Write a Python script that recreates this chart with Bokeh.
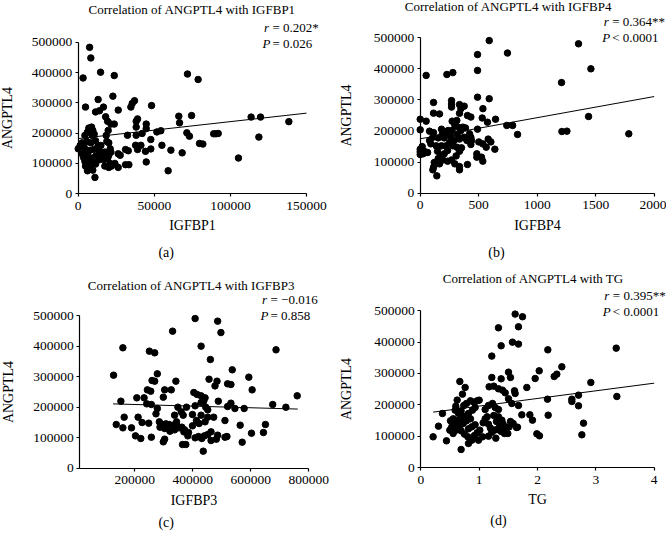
from bokeh.plotting import figure
from bokeh.layouts import column, row
from bokeh.models import Label, Range1d, FixedTicker, BasicTickFormatter
from bokeh.embed import file_html
from bokeh.resources import INLINE

# ---------------- data ----------------
# (a) IGFBP1 vs ANGPTL4
a_x = [7500, 8300, 3200, 14700, 23700, 4800, 13100, 16600, 22800, 26300, 11400, 14000, 18000, 19300,
       21500, 23700, 34600, 35500, 37000, 48200, 39000, 38100, 44700, 44700, 38100, 38100, 42000, 47700,
       51700, 54300, 66100, 66600, 74500, 71800, 78800, 71400, 73100, 79700, 81900, 32400, 37700, 31100,
       32900, 39000, 41200, 44200, 44700, 47700, 55000, 60900, 68300, 59100, 26300, 27600, 31100, 33300,
       26300, 89000, 90500, 92000, 105300, 113600, 119800, 118700, 138400,
       7000, 8800, 9600, 6100, 4400, 9200, 10500, 2600, 5700, 8300, 11400, 13100, 0, 2600, 4800, 7400,
       10100, 12700, 14000, 3500, 6100, 8800, 11400, 13600, 4400, 7000, 9600, 12300, 4800, 7900, 11400,
       14500, 6100, 9600, 11000, 18800, 20100, 21000, 21500, 20100, 17100, 19300, 21000, 21900, 24100,
       17500, 20100, 15800, 17500, 18400, 19700, 14900, 3900, 1300]
a_y = [483000, 448000, 382000, 401000, 390000, 286000, 311000, 286000, 322000, 276000, 270000, 274000,
       254000, 239000, 230000, 230000, 286000, 298000, 307000, 291000, 247000, 239000, 230000, 215000,
       220000, 193000, 199000, 179000, 204000, 208000, 256000, 234000, 258000, 395000, 377000, 201000,
       190000, 166000, 164000, 193000, 160000, 146000, 142000, 146000, 160000, 140000, 105000, 148000,
       160000, 144000, 135000, 76000, 132000, 127000, 96000, 96000, 87000, 198000, 198000, 199000,
       118000, 253000, 253000, 187000, 238000,
       217000, 220000, 209000, 203500, 192500, 192500, 197000, 168000, 172700, 168000, 175000, 159500,
       148500, 132000, 137500, 143000, 146000, 150700, 139700, 120000, 126500, 117700, 124000, 126500,
       106700, 109000, 104500, 109000, 91300, 95700, 98000, 113300, 75900, 78000, 54000, 172700, 168000,
       148500, 137500, 126500, 113300, 115500, 100100, 91300, 100100, 91300, 86900, 131000, 137500,
       192500, 209000, 159500, 154000, 159500]
a_line_x = [0, 150000]
a_line_y = [182000, 266000]

# (b) IGFBP4 vs ANGPTL4
b_x = [590, 490, 746, 490, 51, 228, 279, 1208, 490, 590, 114, 268, 268, 268, 336, 348, 376, 536, 114,
       165, 336, 404, 433, 530, 575, 644, 0, 51, 740, 790, 832, 1211, 1254, 1353, 1459, 1439, 1783,
       0, 0, 0, 0, 23, 40, 63, 80, 114, 108, 91, 137, 154, 182, 188, 205, 222, 239, 262, 273, 296, 313,
       325, 348, 365, 387, 319, 336, 290, 251, 222, 182, 148, 177, 205, 234, 279, 313, 353, 336, 307,
       268, 234, 194, 154, 120, 114, 108, 142, 165, 296, 336, 336, 404, 422, 433, 439, 433, 490, 501,
       484, 484, 524, 535, 535, 581, 604, 638, 564, 376, 399, 273, 80, 17, 34]
b_y = [491000, 446000, 451000, 395000, 379000, 382000, 388000, 356000, 309000, 304000, 292000, 298000,
       287000, 277000, 285000, 272000, 280000, 272000, 257500, 255000, 257000, 250000, 245000, 242000,
       228500, 238000, 238000, 231800, 218000, 218000, 189000, 198500, 199600, 480700, 400200, 246800,
       191000,
       204000, 141600, 124500, 133000, 126600, 130000, 131000, 169500, 195000, 180000, 158800, 152400,
       178000, 206000, 189000, 178000, 191000, 201700, 182400, 231800, 219000, 234000, 212500, 201700,
       212500, 210000, 189000, 174000, 169500, 163000, 152400, 152400, 135000, 120000, 126600, 137300,
       152400, 148000, 146000, 135000, 120000, 107000, 103000, 107000, 111600, 98700, 83700, 75100,
       55800, 94400, 94400, 85800, 75100, 92300, 191000, 180000, 169500, 156700, 206000, 165000, 126600,
       115900, 115900, 103000, 158800, 174000, 165000, 141600, 148000, 180000, 169500, 201700, 199500,
       150000, 135000]
b_line_x = [0, 2000]
b_line_y = [175000, 311000]

# (c) IGFBP3 vs ANGPTL4
c_x = [408000, 485700, 497000, 330300, 158900, 250300, 268600, 428600, 460600, 126800, 277700, 259400,
       268600, 341700, 536000, 456000, 483500, 476600, 520000, 531500, 593200, 604600, 243400, 254900,
       302900, 325700, 298300, 206900, 232000, 152000, 241100, 257100, 687000, 760000, 721000, 675500,
       650400, 643600, 602400, 570300, 563400, 577100, 488000, 520000, 531500, 545200, 136000, 158900,
       188600, 163400, 211400, 225100, 248000, 302900, 298300, 436000, 364600, 376000, 510900, 517700,
       472000, 510900,
       403500, 414900, 428600, 442300, 437700, 408000, 428600, 444600, 451500, 277700, 273100, 348600,
       360000, 366900, 337200, 344000, 398900, 412600, 428600, 442300, 451500, 421700, 485700, 481200,
       462900, 451500, 440000, 419500, 408000, 382900, 369200, 353200, 346300, 257100, 220600, 202300,
       284600, 293700, 307400, 318900, 332600, 286900, 302900, 321200, 337200, 362300, 371500, 385200,
       398900, 430900, 462900, 378300]
c_y = [491000, 482500, 445000, 449600, 395000, 384000, 378500, 400400, 356600, 305200, 309600, 287700,
       285500, 285500, 322700, 292000, 285500, 270000, 276800, 274600, 298700, 257000, 257000, 252700,
       257000, 257000, 233000, 230800, 230800, 219900, 211100, 209000, 388400, 237500, 200000, 209000,
       143400, 117100, 114800, 85300, 141100, 195900, 219900, 202400, 213300, 195800, 143300, 132400,
       132400, 167400, 167400, 149900, 147700, 95200, 86400, 55800, 77700, 77700, 101700, 103900,
       167400, 156400,
       248300, 241800, 237400, 230800, 219900, 204600, 215500, 200200, 191500, 195800, 178300, 200200,
       184900, 173900, 173900, 152100, 176100, 156400, 173900, 152100, 167400, 146600, 108300, 95200,
       119200, 110500, 106100, 103900, 99600, 106100, 119200, 132400, 138900, 101700, 97400, 106100,
       152100, 143300, 145500, 143300, 141100, 134600, 130200, 121400, 125800, 134600, 125800, 117100,
       138900, 97400, 90800, 200200]
c_line_x = [125000, 762000]
c_line_y = [211000, 194000]

# (d) TG vs ANGPTL4
d_x = [1.617, 1.743, 1.331, 1.674, 1.571, 1.674, 1.377, 1.217, 2.177, 2.417, 2.331, 2.286, 2.029, 1.96,
       1.503, 1.537, 1.217, 1.377, 0.669, 1.817, 0.76, 1.503, 1.56, 1.674, 2.171, 2.183, 1.731, 1.869,
       1.914, 1.989, 2.034, 0.714, 0.623, 0.6, 0.371, 0.303, 0.211, 0.44, 0.691, 3.349, 3.36, 2.914,
       2.76, 2.789, 2.703, 2.703, 2.589, 2.589, 1.657,
       1.171, 1.251, 1.331, 1.4, 1.446, 1.606, 1.617, 0.509, 0.554, 0.589, 0.646, 0.691, 0.737, 0.783,
       0.851, 0.909, 0.966, 1.0, 0.931, 0.886, 0.817, 0.76, 0.703, 0.646, 0.589, 0.531, 0.497, 0.554,
       0.6, 0.669, 0.726, 0.783, 0.851, 0.691, 0.749, 0.817, 0.874, 0.931, 0.806, 0.874, 0.92, 0.966,
       1.011, 0.817, 0.989, 1.057, 1.069, 1.103, 1.137, 1.16, 1.194, 1.217, 1.263, 1.103, 1.16, 1.229,
       1.274, 1.331, 1.251, 1.331, 1.389, 1.297, 1.354, 1.411, 1.457, 1.514, 1.309, 1.377, 1.434, 1.491,
       1.286, 1.16, 1.537, 1.583, 1.64]
d_y = [489400, 481000, 445800, 449000, 400000, 393700, 388400, 355400, 375500, 321300, 297900, 290400,
       308500, 284000, 304300, 287300, 287300, 283000, 274500, 255300, 255400, 219200, 204300, 197900,
       218000, 167000, 168100, 168100, 151100, 107400, 101100, 234100, 215000, 195800, 172400, 131900,
       97900, 85100, 57500, 380900, 226600, 271300, 104300, 141500, 230900, 196800, 218000, 210600,
       128700,
       257500, 259600, 251100, 246800, 238300, 244700, 236200, 149000, 155300, 183000, 172400, 180900,
       197900, 204300, 212800, 208500, 212800, 214900, 191500, 183000, 172400, 163900, 155300, 151100,
       140400, 129800, 119200, 108500, 119200, 131900, 140400, 149000, 155300, 117000, 106400, 123400,
       129800, 136200, 97900, 87200, 102100, 110700, 119200, 76600, 87200, 97900, 142600, 155300,
       161700, 138300, 125600, 112800, 119200, 185100, 197900, 204300, 191500, 185100, 166000, 161700,
       151100, 146800, 134100, 138300, 127700, 129800, 121300, 114900, 108500, 108500, 93600, 100000,
       146800, 140400, 127700]
d_line_x = [0.211, 4.0]
d_line_y = [176600, 269100]

y_ticks = [0, 100000, 200000, 300000, 400000, 500000]
Y_MAX = 500000

FONT = "Liberation Serif"


def panel(xs, ys, lx, ly, xbounds, xt, size, xanchor, ybox, texts, ystand):
    """size: figure (w, h); xanchor: two (pixel, value) pairs; ybox: pixel top/bottom of 0..Y_MAX."""
    Wf, Hf = size
    (pa, va), (pb, vb) = xanchor
    T, B = ybox
    sx = (vb - va) / (pb - pa)
    sy = Y_MAX / (B - T)
    xr = Range1d(va - pa * sx, va + (Wf - pa) * sx)
    yr = Range1d(-(Hf - B) * sy, Y_MAX + T * sy)

    p = figure(width=Wf, height=Hf, min_border=0, output_backend="svg", title=None,
               toolbar_location=None, x_range=xr, y_range=yr)
    p.outline_line_color = None
    p.grid.visible = False
    p.background_fill_color = "white"
    p.border_fill_color = "white"
    for ax in (p.xaxis[0], p.yaxis[0]):
        ax.axis_line_width = 1.2
        ax.axis_line_color = "black"
        ax.major_tick_line_width = 1.2
        ax.major_tick_line_color = "black"
        ax.major_tick_in = 0
        ax.major_tick_out = 3
        ax.minor_tick_line_color = None
        ax.major_label_text_font = FONT
        ax.major_label_text_font_size = "13.5px"
        ax.major_label_text_color = "black"
        ax.axis_label_text_font = FONT
        ax.axis_label_text_font_size = "14px"
        ax.axis_label_text_font_style = "normal"
        ax.axis_label_text_color = "black"
        ax.formatter = BasicTickFormatter(use_scientific=False)
    p.xaxis.ticker = FixedTicker(ticks=xt)
    p.yaxis.ticker = FixedTicker(ticks=y_ticks)
    p.xaxis.fixed_location = 0
    p.yaxis.fixed_location = xbounds[0]
    p.xaxis.bounds = xbounds
    p.yaxis.bounds = (0, Y_MAX)
    p.xaxis.major_label_standoff = 5
    p.yaxis.major_label_standoff = 3
    p.xaxis.axis_label = texts["xlabel"]
    p.yaxis.axis_label = "ANGPTL4"
    p.xaxis.axis_label_standoff = 5
    p.yaxis.axis_label_standoff = ystand

    p.line(lx, ly, line_color="black", line_width=1)
    p.scatter(xs, ys, size=6.5, fill_color="black", line_color="black")

    def lab(px, py, text, fsize, align="left", base="alphabetic", style="normal"):
        p.add_layout(Label(x=xr.start + px * sx, y=yr.end - py * sy, text=text, text_font=FONT,
                           text_font_size=fsize, text_align=align, text_baseline=base,
                           text_font_style=style, text_color="black"))

    tx, ty = texts["title_pos"]
    lab(tx, ty, texts["title"], "13px", align="center")
    rx, ry, dy = texts["rp_pos"]
    lab(rx + 1.5, ry, "r", "13px", style="italic")
    lab(rx + 10, ry, "= " + texts["r"], "13px")
    lab(rx, ry + dy, "P", "13px", style="italic")
    lab(rx + 10, ry + dy, texts["p"], "13px")
    gx, gy = texts["tag_pos"]
    lab(gx, gy, texts["tag"], "14px", align="center", base="middle")
    return p


pa = panel(a_x, a_y, a_line_x, a_line_y, (0, 150000), [0, 50000, 100000, 150000], (333, 272),
           ((77.7, 0), (306, 150000)), (41.7, 193.3),
           dict(title="Correlation of ANGPTL4 with IGFBP1", xlabel="IGFBP1", tag="(a)", r="0.202*",
                p="= 0.026", title_pos=(191.7, 9), rp_pos=(262, 26.5, 16.4), tag_pos=(165.7, 251.7)),
           14)
pb = panel(b_x, b_y, b_line_x, b_line_y, (0, 2000), [0, 500, 1000, 1500, 2000], (333, 272),
           ((86.7, 0), (320.7, 2000)), (37.3, 192.7),
           dict(title="Correlation of ANGPTL4 with IGFBP4", xlabel="IGFBP4", tag="(b)", r="0.364**",
                p="< 0.0001", title_pos=(175, 6), rp_pos=(268.7, 21, 15.5), tag_pos=(163, 252)),
           17)
pc = panel(c_x, c_y, c_line_x, c_line_y, (10000, 800000), [200000, 400000, 600000, 800000], (333, 273),
           ((134.3, 200000), (308.3, 800000)), (43.3, 195.7),
           dict(title="Correlation of ANGPTL4 with IGFBP3", xlabel="IGFBP3", tag="(c)", r="\u22120.016",
                p="= 0.858", title_pos=(191, 12.5), rp_pos=(260, 26.5, 16.4), tag_pos=(165.7, 250)),
           14)
pd_ = panel(d_x, d_y, d_line_x, d_line_y, (0, 4), [0, 1, 2, 3, 4], (333, 273),
            ((87.3, 0), (320.7, 4)), (38.3, 195),
            dict(title="Correlation of ANGPTL4 with TG", xlabel="TG", tag="(d)", r="0.395**",
                 p="< 0.0001", title_pos=(200, 5.5), rp_pos=(269.3, 23, 15.7), tag_pos=(165, 248)),
            17)

layout = column(row(pa, pb), row(pc, pd_))

open("out.html", "w").write(file_html(layout, INLINE))
